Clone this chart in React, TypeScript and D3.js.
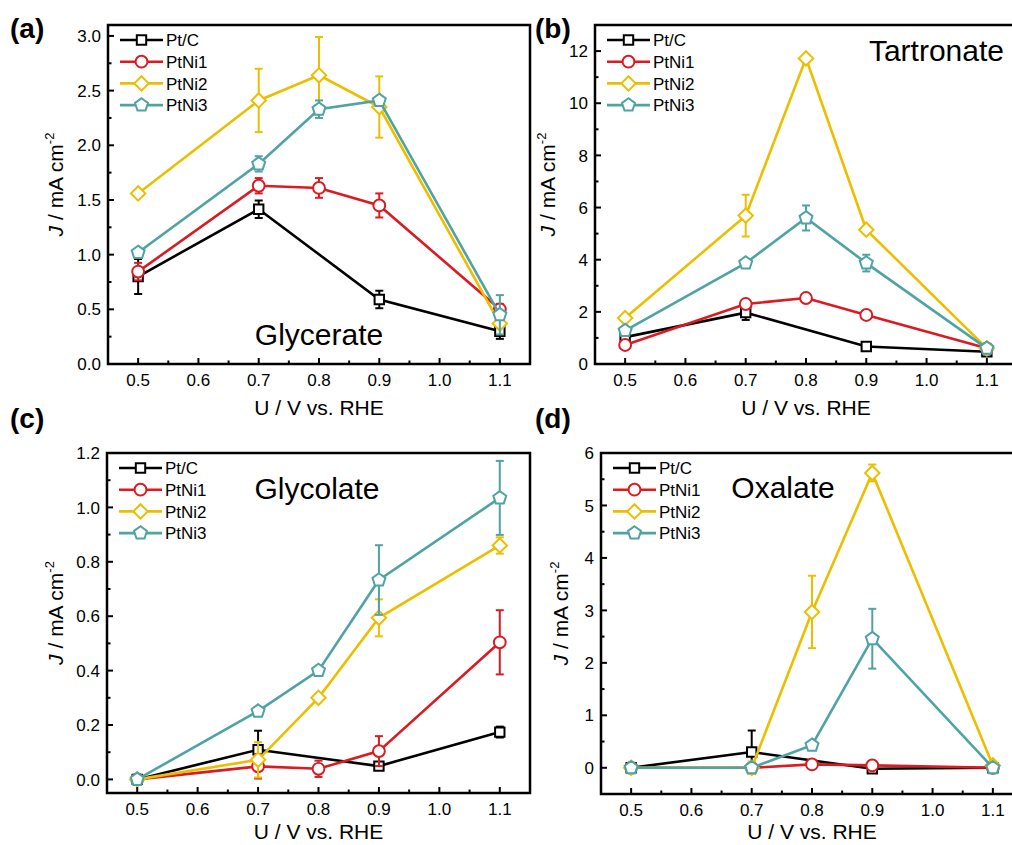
import React from "react";
import * as d3 from "d3";

// potentials (V vs. RHE) at which each product was measured
const voltages = [0.5, 0.7, 0.8, 0.9, 1.1];
const catalysts = ["Pt/C", "PtNi1", "PtNi2", "PtNi3"];
const colors = ["#000000", "#DB1A21", "#EBBF00", "#4FA3A3"];
const markers = ["square", "circle", "diamond", "pentagon"];

// (a) Glycerate, mA cm-2 (null = not measured)
const glycerateJ = [
  [0.8, 1.415, null, 0.59, 0.3],
  [0.845, 1.63, 1.61, 1.45, 0.5],
  [1.56, 2.41, 2.64, 2.35, 0.37],
  [1.02, 1.83, 2.33, 2.41, 0.45],
];
const glycerateErr = [
  [0.16, 0.08, null, 0.08, 0.07],
  [0.08, 0.07, 0.09, 0.11, 0.05],
  [0.02, 0.29, 0.35, 0.28, 0.03],
  [0.03, 0.07, 0.08, 0.03, 0.18],
];

// (b) Tartronate
const tartronateJ = [
  [1.03, 1.97, null, 0.67, 0.47],
  [0.73, 2.3, 2.53, 1.88, 0.6],
  [1.76, 5.69, 11.72, 5.15, 0.6],
  [1.28, 3.87, 5.6, 3.87, 0.6],
];
const tartronateErr = [
  [0.1, 0.28, null, 0.1, 0.1],
  [0.12, 0.1, 0.08, 0.08, 0.05],
  [0.1, 0.8, 0.1, 0.12, 0.1],
  [0.15, 0.12, 0.48, 0.32, 0.08],
];

// (c) Glycolate
const glycolateJ = [
  [0.0, 0.109, null, 0.049, 0.174],
  [0.0, 0.048, 0.039, 0.104, 0.504],
  [0.0, 0.072, 0.3, 0.594, 0.86],
  [0.0, 0.251, 0.4, 0.733, 1.035],
];
const glycolateErr = [
  [0.005, 0.07, null, 0.01, 0.02],
  [0.005, 0.045, 0.03, 0.055, 0.118],
  [0.005, 0.065, 0.01, 0.068, 0.03],
  [0.005, 0.012, 0.01, 0.128, 0.136],
];

// (d) Oxalate
const oxalateJ = [
  [0, 0.3, null, -0.02, 0],
  [0, 0, 0.064, 0.045, 0],
  [0, 0, 2.97, 5.62, 0.045],
  [0, 0, 0.43, 2.46, 0],
];
const oxalateErr = [
  [0.02, 0.41, null, 0.03, 0.02],
  [0.02, 0.02, 0.04, 0.04, 0.02],
  [0.05, 0.12, 0.69, 0.16, 0.05],
  [0.03, 0.03, 0.06, 0.57, 0.03],
];

const panels = [
  {
    tag: "(a)", name: "Glycerate", values: glycerateJ, errors: glycerateErr,
    yDomain: [0, 3.1], yStep: 0.5, yFmt: ".1f",
    box: { x: 108, y: 25, w: 422, h: 339 }, tagPos: [10, 38], ylabX: 45, xlabY: 51,
    note: { x: 211, y: 320, anchor: "middle" },
  },
  {
    tag: "(b)", name: "Tartronate", values: tartronateJ, errors: tartronateErr,
    yDomain: [0, 13], yStep: 2, yFmt: "d",
    box: { x: 595, y: 25, w: 422, h: 339 }, tagPos: [535, 38], ylabX: 40, xlabY: 51,
    note: { x: 409, y: 36, anchor: "end" },
  },
  {
    tag: "(c)", name: "Glycolate", values: glycolateJ, errors: glycolateErr,
    yDomain: [-0.05, 1.2], yStep: 0.2, yFmt: ".1f",
    box: { x: 107, y: 453, w: 423, h: 340 }, tagPos: [10, 428], ylabX: 44, xlabY: 46,
    note: { x: 210, y: 46, anchor: "middle" },
  },
  {
    tag: "(d)", name: "Oxalate", values: oxalateJ, errors: oxalateErr,
    yDomain: [-0.5, 6], yStep: 1, yFmt: "d",
    box: { x: 601, y: 453, w: 422, h: 341 }, tagPos: [535, 428], ylabX: 33, xlabY: 45,
    note: { x: 182, y: 45, anchor: "middle" },
  },
];

const font = "'Liberation Sans', Arial, sans-serif";

function markerPath(kind: string) {
  if (kind === "square") return d3.symbol(d3.symbolSquare, 88)()!;
  if (kind === "circle") return d3.symbol(d3.symbolCircle, 110)()!;
  const r = kind === "diamond" ? 7.2 : 6.8;
  const n = kind === "diamond" ? 4 : 5;
  const pts: [number, number][] = d3.range(n).map((i) => {
    const a = -Math.PI / 2 + (i * 2 * Math.PI) / n;
    return [r * Math.cos(a), r * Math.sin(a)];
  });
  return d3.line()(pts) + "Z";
}

function steps(lo: number, hi: number, step: number) {
  const out: number[] = [];
  const start = Math.ceil(lo / step - 1e-9);
  for (let i = start; i * step <= hi + 1e-9; i++) out.push(+(i * step).toFixed(6));
  return out;
}

const Panel = ({ p }: { p: any }) => {
  const { x, y, w, h } = p.box;
  const xScale = d3.scaleLinear().domain([0.45, 1.15]).range([x, x + w]);
  const yScale = d3.scaleLinear().domain(p.yDomain).range([y + h, y]);
  const xMajor = steps(0.5, 1.1, 0.1);
  const xMinor = steps(0.55, 1.1, 0.05).filter((v) => !xMajor.some((m) => Math.abs(m - v) < 1e-6));
  const yMajor = steps(p.yDomain[0], p.yDomain[1], p.yStep);
  const yMinor = steps(p.yDomain[0] + 1e-6, p.yDomain[1], p.yStep / 2).filter(
    (v) => !yMajor.some((m) => Math.abs(m - v) < 1e-6) && v > p.yDomain[0]
  );
  const fmt = d3.format(p.yFmt);
  const line = d3
    .line<[number, number]>()
    .x((d) => xScale(d[0]))
    .y((d) => yScale(d[1]));

  const series = p.values.map((vals: (number | null)[], si: number) => {
    const pts = voltages
      .map((v, i) => ({ v, j: vals[i], e: p.errors[si][i] }))
      .filter((d) => d.j !== null) as { v: number; j: number; e: number }[];
    return (
      <g key={si}>
        <path d={line(pts.map((d) => [d.v, d.j]))!} fill="none" stroke={colors[si]} strokeWidth={2.6} />
        {pts.map((d, k) => (
          <g key={k} stroke={colors[si]} strokeWidth={2}>
            <line x1={xScale(d.v)} x2={xScale(d.v)} y1={yScale(d.j - d.e)} y2={yScale(d.j + d.e)} />
            <line x1={xScale(d.v) - 4} x2={xScale(d.v) + 4} y1={yScale(d.j - d.e)} y2={yScale(d.j - d.e)} />
            <line x1={xScale(d.v) - 4} x2={xScale(d.v) + 4} y1={yScale(d.j + d.e)} y2={yScale(d.j + d.e)} />
          </g>
        ))}
        {pts.map((d, k) => (
          <path
            key={"m" + k}
            d={markerPath(markers[si])}
            transform={`translate(${xScale(d.v)},${yScale(d.j)})`}
            fill="#fff"
            stroke={colors[si]}
            strokeWidth={2}
          />
        ))}
      </g>
    );
  });

  return (
    <g fontFamily={font}>
      <text x={p.tagPos[0]} y={p.tagPos[1]} fontSize={28} fontWeight="bold">{p.tag}</text>
      {series}
      <rect x={x} y={y} width={w} height={h} fill="none" stroke="#000" strokeWidth={2.5} />
      {xMajor.map((v) => (
        <g key={"xm" + v}>
          <line x1={xScale(v)} x2={xScale(v)} y1={y + h} y2={y + h - 6} stroke="#000" strokeWidth={2} />
          <text x={xScale(v)} y={y + h + 22} fontSize={17} textAnchor="middle">{d3.format(".1f")(v)}</text>
        </g>
      ))}
      {xMinor.map((v) => (
        <line key={"xn" + v} x1={xScale(v)} x2={xScale(v)} y1={y + h} y2={y + h - 3.5} stroke="#000" strokeWidth={2} />
      ))}
      {yMajor.map((v) => (
        <g key={"ym" + v}>
          <line x1={x} x2={x + 6} y1={yScale(v)} y2={yScale(v)} stroke="#000" strokeWidth={2} />
          <text x={x - 7} y={yScale(v)} dy="0.36em" fontSize={17} textAnchor="end">{fmt(v)}</text>
        </g>
      ))}
      {yMinor.map((v) => (
        <line key={"yn" + v} x1={x} x2={x + 3.5} y1={yScale(v)} y2={yScale(v)} stroke="#000" strokeWidth={2} />
      ))}
      <text x={x + w / 2} y={y + h + p.xlabY} fontSize={21} textAnchor="middle">U / V vs. RHE</text>
      <text
        transform={`translate(${x - p.ylabX},${y + h / 2 - 10}) rotate(-90)`}
        fontSize={21}
        textAnchor="middle"
      >
        <tspan fontStyle="italic">J</tspan>
        <tspan> / mA cm</tspan>
        <tspan fontSize={13} dy={-9}>-2</tspan>
      </text>
      <text x={x + p.note.x} y={y + p.note.y} fontSize={30} textAnchor={p.note.anchor}>{p.name}</text>
      {catalysts.map((c, i) => {
        const ly = y + 15 + i * 21.7;
        return (
          <g key={c}>
            <line x1={x + 12} x2={x + 55} y1={ly} y2={ly} stroke={colors[i]} strokeWidth={2.6} />
            <path d={markerPath(markers[i])} transform={`translate(${x + 33.5},${ly})`} fill="#fff" stroke={colors[i]} strokeWidth={2} />
            <text x={x + 58} y={ly} dy="0.36em" fontSize={17}>{c}</text>
          </g>
        );
      })}
    </g>
  );
};

export default function App() {
  return (
    <svg width={1012} height={845} style={{ position: "absolute", left: 0, top: 0, background: "#fff" }}>
      {panels.map((p) => (
        <Panel key={p.tag} p={p} />
      ))}
    </svg>
  );
}
